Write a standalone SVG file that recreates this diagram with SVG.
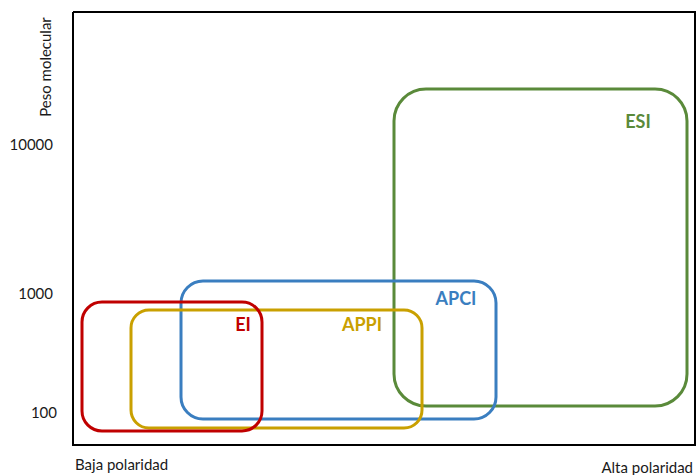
<svg xmlns="http://www.w3.org/2000/svg" width="696" height="475" viewBox="0 0 696 475">
<style>
.box{fill:none;stroke-width:3}
.lbl{font-family:Lato,"Open Sans","Liberation Sans",sans-serif;font-weight:bold;font-size:18px}
.ax{font-family:Lato,"Open Sans","Liberation Sans",sans-serif;font-size:15px;fill:#1a1a1a}
</style>
<rect width="696" height="475" fill="#ffffff"/>
<g id="frame">
<polyline points="73,12 695,12 695,445 73,445 73,12" fill="none" stroke="#000" stroke-width="2"/>
</g>
<g id="axis-labels">
<text class="ax" x="53" y="150" text-anchor="end">10000</text>
<text class="ax" x="53" y="299" text-anchor="end">1000</text>
<text class="ax" x="57" y="418" text-anchor="end">100</text>
<text class="ax" transform="translate(51,67) rotate(-90)" text-anchor="middle">Peso molecular</text>
<text class="ax" x="75" y="470">Baja polaridad</text>
<text class="ax" x="693" y="473" text-anchor="end">Alta polaridad</text>
</g>
<g id="ESI">
<rect class="box" x="394" y="89" width="293" height="317" rx="32" stroke="#5A8A3A"/>
<text class="lbl" x="638" y="128" text-anchor="middle" fill="#5A8A3A">ESI</text>
</g>
<g id="APCI">
<rect class="box" x="181" y="281" width="315" height="138" rx="22" stroke="#3A7EC0"/>
<text class="lbl" x="456" y="305" text-anchor="middle" fill="#3A7EC0">APCI</text>
</g>
<g id="APPI">
<rect class="box" x="131" y="310" width="291" height="118" rx="18" stroke="#C9A000"/>
<text class="lbl" x="362" y="331" text-anchor="middle" fill="#C9A000">APPI</text>
</g>
<g id="EI">
<rect class="box" x="82" y="302" width="180" height="129" rx="20" stroke="#C00000"/>
<text class="lbl" x="243" y="331" text-anchor="middle" fill="#C00000">EI</text>
</g>
<g id="connectors"></g>
</svg>
